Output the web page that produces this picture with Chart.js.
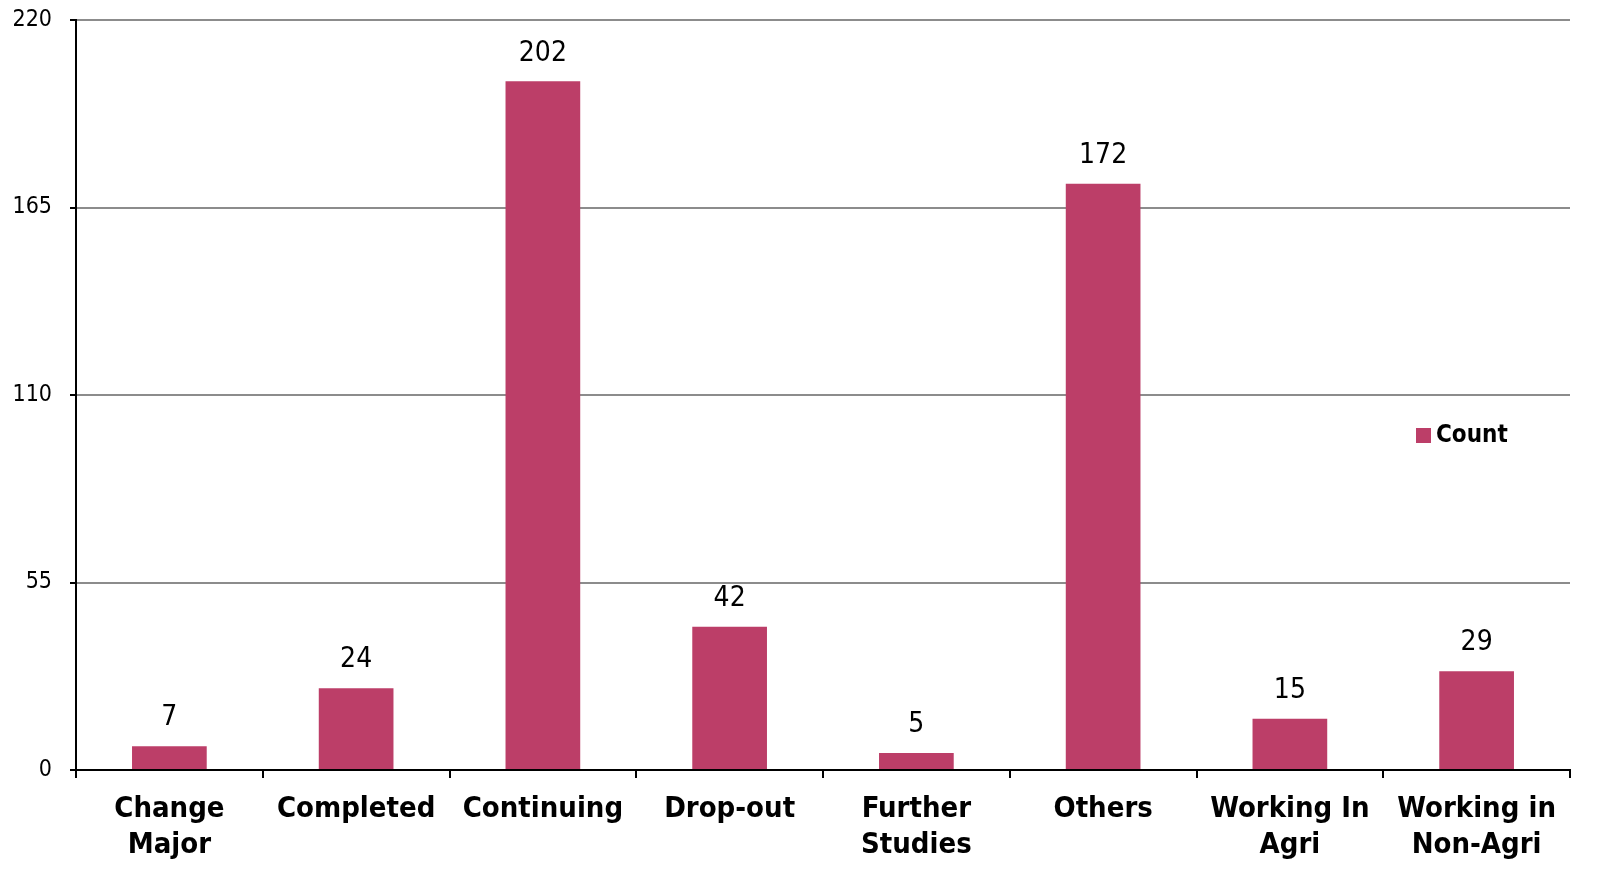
<!DOCTYPE html>
<html>
<head>
<meta charset="utf-8">
<script src="https://cdn.jsdelivr.net/npm/chart.js@4/dist/chart.umd.min.js"></script>
<style>
html,body{margin:0;padding:0;background:#fff;overflow:hidden;}
canvas{display:block;}
</style>
</head>
<body>
<canvas id="c" width="1602" height="881"></canvas>
<script>
const categories = [["Change","Major"],"Completed","Continuing","Drop-out",["Further","Studies"],"Others",["Working In","Agri"],["Working in","Non-Agri"]];
const counts = [7,24,202,42,5,172,15,29];
const yTicks = [0,55,110,165,220];
const seriesName = "Count";

const FONT = "'DejaVu Sans Condensed','DejaVu Sans',sans-serif";
const BAR = "#BC3E68";

const valueLabels = {
  id:'valueLabels',
  afterDatasetsDraw(chart){
    const ctx = chart.ctx;
    const meta = chart.getDatasetMeta(0);
    ctx.save();
    ctx.font = "28px " + FONT;
    ctx.fillStyle = "#000";
    ctx.textAlign = "center";
    ctx.textBaseline = "bottom";
    meta.data.forEach((el,i)=>{
      ctx.fillText(String(chart.data.datasets[0].data[i]), el.x, el.y - 14);
    });
    ctx.restore();
  }
};
const legendBox = {
  id:'legendBox',
  afterDraw(chart){
    const ctx = chart.ctx;
    const ds = chart.data.datasets[0];
    ctx.save();
    ctx.fillStyle = ds.backgroundColor;
    ctx.fillRect(1416, 428, 15, 15);
    ctx.font = "bold 24px " + FONT;
    ctx.fillStyle = "#000";
    ctx.textAlign = "left";
    ctx.textBaseline = "middle";
    ctx.fillText(ds.label, 1436, 436);
    ctx.restore();
  }
};

new Chart(document.getElementById('c'), {
  type:'bar',
  data:{
    labels:categories,
    datasets:[{label:seriesName,data:counts,backgroundColor:BAR,borderWidth:0,
      categoryPercentage:1.0,barPercentage:0.4}]
  },
  options:{
    responsive:false,
    animation:false,
    devicePixelRatio:1,
    layout:{padding:{top:20,right:32,left:0,bottom:0}},
    plugins:{legend:{display:false},tooltip:{enabled:false}},
    scales:{
      x:{
        grid:{display:true,drawOnChartArea:false,offset:true,tickLength:8,color:'#000',lineWidth:2},
        border:{display:true,color:'#000',width:2},
        ticks:{color:'#000',font:{family:FONT,size:29,weight:'bold',lineHeight:1.25},padding:13,maxRotation:0,autoSkip:false},
        afterFit(s){s.height=111;s.paddingLeft=0;s.paddingRight=0;}
      },
      y:{
        min:0,max:220,
        afterBuildTicks(s){s.ticks = yTicks.map(v=>({value:v}));},
        grid:{color:'#8c8c8c',lineWidth:2,tickColor:'#000',tickLength:6},
        border:{display:true,color:'#000',width:2},
        ticks:{color:'#000',font:{family:FONT,size:23},padding:18},
        afterFit(s){s.width=76;s.paddingTop=0;s.paddingBottom=0;}
      }
    }
  },
  plugins:[valueLabels,legendBox]
});
</script>
</body>
</html>
